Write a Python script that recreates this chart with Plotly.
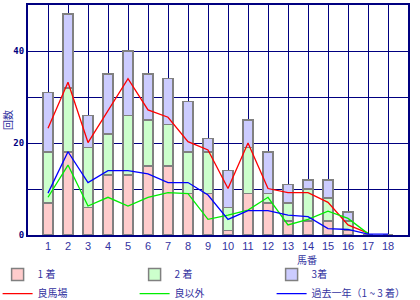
import plotly.graph_objects as go

horse_no = list(range(1, 19))
tick_labels = [str(n) for n in horse_no]

first = [7, 18, 6, 13, 13, 15, 15, 9, 9, 1, 9, 7, 3, 3, 3, 1, 0, 0]
second = [11, 14, 13, 9, 13, 10, 9, 9, 9, 5, 10, 2, 4, 7, 5, 2, 0, 0]
third = [13, 16, 7, 13, 14, 10, 10, 11, 3, 8, 6, 9, 4, 2, 4, 2, 0, 0]

good_x = list(range(1, 18))
good = [23.2, 33.2, 20.1, 27, 34, 27.2, 25.6, 20.3, 18.5, 10.1, 20, 10.1, 9.2, 9.2, 7.1, 2.2, 0.4]
not_good = [8.2, 15.2, 6.3, 8.2, 6.3, 8.2, 9.2, 9.0, 3.4, 4.3, 5.4, 8.2, 2.2, 3.4, 5.2, 3.6, 0.3]
past_year = [9.1, 18.1, 11.4, 14, 14, 13.3, 11.4, 11.4, 8.7, 3.4, 5.3, 5.3, 4.3, 4.0, 1.4, 1.2, 0.2, 0.2]

NAVY = "#000080"
TXT = "#3333a0"

fig = go.Figure()
for name, vals, col in [("1 着", first, "#ffcccc"), ("2 着", second, "#ccffcc"), ("3着", third, "#ccccff")]:
    fig.add_trace(go.Bar(x=horse_no, y=vals, name=name, width=0.5,
                         marker=dict(color=col, line=dict(color="#808080", width=1.5))))

fig.add_trace(go.Scatter(x=good_x, y=good, name="良馬場", mode="lines",
                         line=dict(color="#ff0000", width=1.3)))
fig.add_trace(go.Scatter(x=good_x, y=not_good, name="良以外", mode="lines",
                         line=dict(color="#00ee00", width=1.3)))
fig.add_trace(go.Scatter(x=horse_no, y=past_year, name="過去一年（1 ~ 3 着）", mode="lines",
                         line=dict(color="#0000ff", width=1.3)))

fig.update_layout(
    width=420, height=300,
    margin=dict(l=28, r=12, t=5, b=65, autoexpand=False),
    barmode="stack",
    plot_bgcolor="white", paper_bgcolor="white",
    font=dict(family="Noto Sans CJK JP, sans-serif", color=TXT, size=11),
    showlegend=True,
    legend=dict(orientation="h", x=-0.08, xanchor="left", y=-0.109, yanchor="top",
                entrywidth=92, entrywidthmode="pixels", traceorder="normal",
                font=dict(size=10, color=TXT), itemwidth=30,
                bgcolor="rgba(0,0,0,0)", tracegroupgap=0),
    annotations=[dict(text="馬番", x=0.734, y=-0.107, xref="paper", yref="paper",
                      showarrow=False, font=dict(size=10, color=TXT),
                      xanchor="center", yanchor="middle")],
)

fig.update_xaxes(range=[0, 19], tickvals=horse_no, ticktext=tick_labels,
                 showgrid=True, gridcolor=NAVY, gridwidth=1,
                 showline=True, linecolor=NAVY, linewidth=2, mirror=True,
                 ticks="", zeroline=False, automargin=False,
                 tickfont=dict(size=11, color=TXT, family="Liberation Sans, sans-serif"))
fig.update_yaxes(range=[0, 50], tickvals=[0, 10, 20, 30, 40, 50],
                 ticktext=["0", "", "20", "", "40", ""],
                 showgrid=True, gridcolor=NAVY, gridwidth=1,
                 showline=True, linecolor=NAVY, linewidth=2, mirror=True,
                 ticks="", zeroline=False, automargin=False,
                 tickfont=dict(size=9, color=NAVY, family="DejaVu Sans Mono, monospace", weight="bold"),
                 title=dict(text="回数", font=dict(size=10, color=TXT), standoff=2))

fig.write_html("out.html")
